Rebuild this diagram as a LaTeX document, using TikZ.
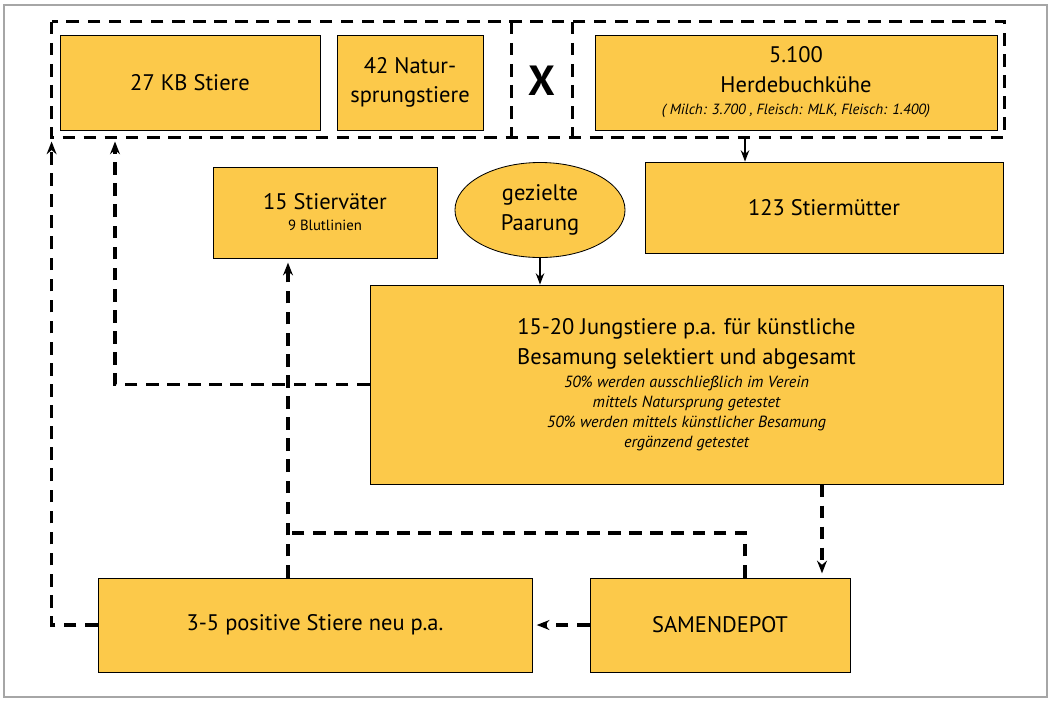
\documentclass[tikz,border=0pt]{standalone}
\usepackage{fontspec}
\setmainfont{PT Sans}
\usepackage{tikz}
\usetikzlibrary{shapes.geometric,arrows.meta,positioning,calc}
\definecolor{boxgelb}{RGB}{252,201,74}
\tikzstyle{box}  =[draw=black, fill=boxgelb, line width=0.6pt, align=center, inner sep=2pt,
                   font=\fontsize{16}{21}\selectfont]
\tikzstyle{arr}  =[-{Stealth[length=8pt,width=6pt]}, line width=1.2pt]
\tikzstyle{dline}=[line width=2.4pt, dash pattern=on 9pt off 6pt]
\tikzstyle{darr} =[dline, -{Stealth[length=9pt,width=7pt]}, shorten >=3pt]
\newcommand{\klein}{\fontsize{11.5}{14}\selectfont\itshape}

\begin{document}
\begin{tikzpicture}[x=0.025cm, y=-0.025cm]

  % ── frame ─────────────────────────────────────────────────────────────────
  \useasboundingbox (0,0) rectangle (1052,700);
  \draw[gray!70, line width=0.8pt] (4,5) rectangle (1047,697);

  % ── top group ─────────────────────────────────────────────────────────────
  \node[box, minimum width=6.5cm, minimum height=2.375cm] (kb) at (190,82.5) {27 KB Stiere};

  \node[box, minimum width=3.65cm, minimum height=2.375cm] (nat) at (410,82.5)
        {42 Natur-\\sprungstiere};

  \node[box, minimum width=10.05cm, minimum height=2.375cm] (herde) at (796,82.5)
        {5.100\\Herdebuchkühe\\[-5pt]{\fontsize{10.5}{12}\selectfont\itshape ( Milch: 3.700 , Fleisch: MLK, Fleisch: 1.400)}};

  \node[minimum width=23.8cm, minimum height=2.875cm, inner sep=0pt] (grp) at (528,79.5) {};
  \node[minimum width=1.5cm, minimum height=2.875cm, inner sep=0pt, font=\fontsize{30}{30}\selectfont\bfseries] (xbox) at (542,81) {X};
  \draw[dline] (grp.north west) rectangle (grp.south east);
  \draw[dline] (xbox.north west |- grp.north) -- (xbox.south west |- grp.south);
  \draw[dline] (xbox.north east |- grp.north) -- (xbox.south east |- grp.south);

  % ── middle ────────────────────────────────────────────────────────────────
  \node[box, minimum width=8.95cm, minimum height=2.275cm] (muetter) at (824,207.5) {123 Stiermütter};

  \node[box, minimum width=5.6cm, minimum height=2.275cm] (vaeter) at (325,212.5)
        {15 Stierväter\\[-6pt]{\fontsize{10.5}{12}\selectfont 9 Blutlinien}};

  \node[box, ellipse, minimum width=4.25cm, minimum height=2.375cm, inner sep=0pt] (paarung) at (540,210)
        {gezielte\\Paarung};

  \node[box, minimum width=15.825cm, minimum height=4.975cm] (jung) at (686.5,384.5)
        {15-20 Jungstiere p.a. für künstliche\\
         Besamung selektiert und abgesamt\\[-4pt]
         {\klein 50\% werden ausschließlich im Verein}\\[-7pt]
         {\klein mittels Natursprung getestet}\\[-7pt]
         {\klein 50\% werden mittels künstlicher Besamung}\\[-7pt]
         {\klein ergänzend getestet}};

  % ── bottom ────────────────────────────────────────────────────────────────
  \node[box, minimum width=10.85cm, minimum height=2.35cm] (pos) at (315,625) {3-5 positive Stiere neu p.a.};

  \node[box, minimum width=6.5cm, minimum height=2.35cm] (depot) at (720,625) {SAMENDEPOT};

  \coordinate (knick) at (288,533);

  % ── arrows ────────────────────────────────────────────────────────────────
  \draw[arr] (grp.south -| 745,0) -- (muetter.north -| 745,0);
  \draw[arr] (paarung.south) -- (paarung.south |- jung.north);
  \draw[darr] (jung.west) -| (grp.south -| 115,0);
  \draw[darr] (pos.west) -| (grp.south west);
  \draw[darr] (pos.north -| knick) -- (vaeter.south -| knick);
  \draw[dline] (depot.north -| 745,0) |- (knick);
  \draw[darr] (jung.south -| 822,0) -- (depot.north -| 822,0);
  \draw[darr] (depot.west) -- (pos.east);

\end{tikzpicture}
\end{document}
